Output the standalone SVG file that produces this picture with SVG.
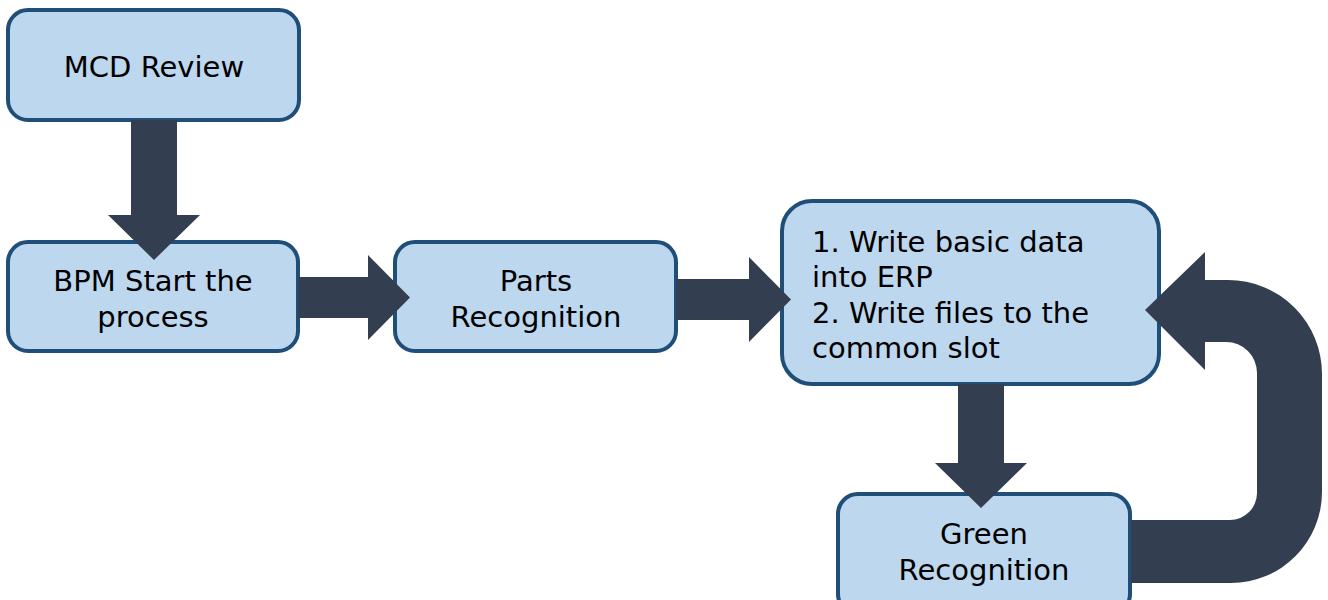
<svg xmlns="http://www.w3.org/2000/svg" width="1328" height="600" viewBox="0 0 1328 600">
<style>
.box{fill:#BDD7EE;stroke:#1F4E79;stroke-width:4}
.t{font-family:"DejaVu Sans",Verdana,sans-serif;font-size:29px;fill:#000}
.c{text-anchor:middle}
.arr{fill:#333F50}
</style>
<rect width="1328" height="600" fill="#fff"/>
<g id="n1"><rect class="box" x="8" y="10" width="291" height="110" rx="20"/><text class="t c" x="154" y="77">MCD Review</text></g>
<g id="n2"><rect class="box" x="8" y="242" width="290" height="109" rx="20"/><text class="t c" x="153" y="291">BPM Start the</text><text class="t c" x="153" y="327">process</text></g>
<g id="n3"><rect class="box" x="395" y="242" width="281" height="109" rx="20"/><text class="t c" x="536" y="291">Parts</text><text class="t c" x="536" y="327">Recognition</text></g>
<g id="n4"><rect class="box" x="782" y="201" width="377" height="183" rx="30"/><text class="t" x="812" y="252">1. Write basic data</text><text class="t" x="812" y="287">into ERP</text><text class="t" x="812" y="323">2. Write files to the</text><text class="t" x="812" y="358">common slot</text></g>
<g id="n5"><rect class="box" x="838" y="494" width="292" height="120" rx="20"/><text class="t c" x="984" y="544">Green</text><text class="t c" x="984" y="580">Recognition</text></g>
<g id="connectors">
<path class="arr" d="M131,120 H177 V215 H200 L154,260 L108,215 H131 Z"/>
<path class="arr" d="M298,277 H368 V255 L410,297.5 L368,340 V318 H298 Z"/>
<path class="arr" d="M676,279 H749 V257 L791,299.5 L749,342 V320 H676 Z"/>
<path class="arr" d="M958,384 H1004 V463 H1027 L981,508 L935,463 H958 Z"/>
<path class="arr" d="M1131,520 H1230 A27,27 0 0 0 1257,493 V373 A31,31 0 0 0 1226,342 H1205 V370 L1145,310 L1205,252 V280 H1228 A94,94 0 0 1 1322,374 V492 A91,91 0 0 1 1231,583 H1131 Z"/>
</g>
</svg>
